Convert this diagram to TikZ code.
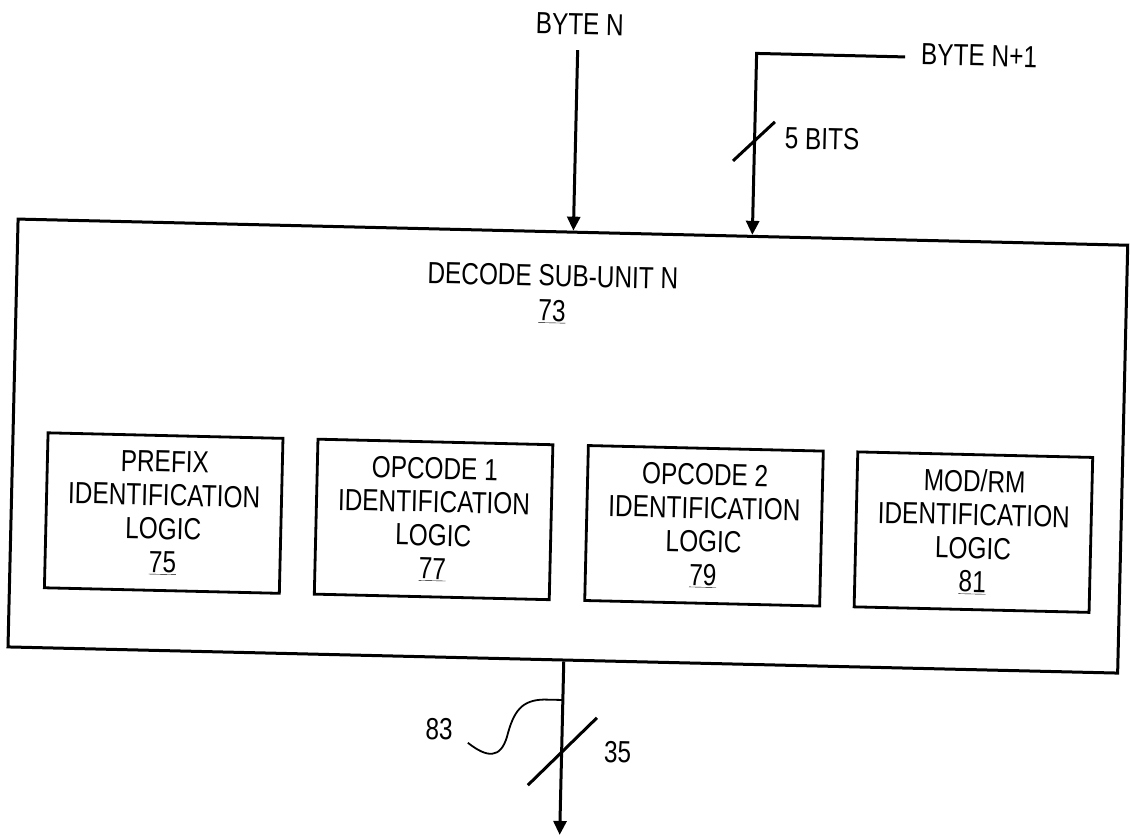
\documentclass[tikz,border=0pt]{standalone}
\usepackage{fontspec}
\setmainfont{Liberation Sans}[FakeStretch=0.80]
\usetikzlibrary{arrows.meta,calc}
\begin{document}
\begin{tikzpicture}[x=1pt,y=-1pt,
  lbl/.style={font=\fontsize{30.5}{33.5}\selectfont, inner sep=0pt, align=center},
  logicbox/.style={draw, line width=2.8pt, minimum width=235pt, minimum height=155pt,
    inner sep=0pt, align=center, font=\fontsize{30.5}{33.5}\selectfont},
  unitbox/.style={draw, line width=3pt, minimum width=1110pt, minimum height=428pt, inner sep=0pt},
  wire/.style={line width=3pt},
  arr/.style={wire, -{Triangle[length=14pt,width=13pt]}},
  busmark/.style={line width=3pt},
  leader/.style={line width=1.8pt}]
\useasboundingbox (0,0) rectangle (1130,838);
\begin{scope}[rotate around={-1.35:(565,440)}, transform shape]
  % main unit
  \node[unitbox] (dsu) at (568,446) {};
  \node[lbl, font=\fontsize{30.5}{35}\selectfont, anchor=north] (title) at (549,265)
    {DECODE SUB-UNIT N\\\underline{73}};
  % logic blocks
  \node[logicbox] (pre) at (165.5,522.5) {PREFIX\\IDENTIFICATION\\LOGIC\\\underline{75}};
  \node[logicbox] (op1) at (435.5,522.5) {OPCODE 1\\IDENTIFICATION\\LOGIC\\\underline{77}};
  \node[logicbox] (op2) at (706,522.5) {OPCODE 2\\IDENTIFICATION\\LOGIC\\\underline{79}};
  \node[logicbox] (mod) at (975.5,522.5) {MOD/RM\\IDENTIFICATION\\LOGIC\\\underline{81}};
  % inputs
  \node[lbl] (bn) at (570,24) {BYTE N};
  \node[lbl] (bn1) at (970,46) {BYTE N+1};
  \coordinate (bnstart) at (568.5,50);
  \draw[arr] (bnstart) -- ($(dsu.north west)!(bnstart)!(dsu.north east)$);
  \coordinate (b1end) at (896,49);
  \coordinate (b1corner) at (747.5,49);
  \draw[arr] (b1end) -- (b1corner) -- ($(dsu.north west)!(b1corner)!(dsu.north east)$);
  \coordinate (s5a) at (726.4,157);
  \coordinate (s5b) at (767.4,117);
  \draw[busmark] (s5a) -- (s5b);
  \node[lbl] (fivebits) at (815,133) {5 BITS};
  % output
  \coordinate (outtip) at (569,835);
  \draw[arr] ($(dsu.south west)!(outtip)!(dsu.south east)$) -- (outtip);
  \coordinate (s35a) at (536,786);
  \coordinate (s35b) at (603.5,717);
  \draw[busmark] (s35a) -- (s35b);
  \node[lbl] (n35) at (625,751) {35};
  \node[lbl] (n83) at (446,732) {83};
  \coordinate (l83) at (475,745);
  \coordinate (l83end) at (569,700);
  \draw[leader] (l83) .. controls (495,760) and (508,760) .. (514,738)
     .. controls (520,712) and (528,701) .. (550,700) -- (l83end);
\end{scope}
\end{tikzpicture}
\end{document}
